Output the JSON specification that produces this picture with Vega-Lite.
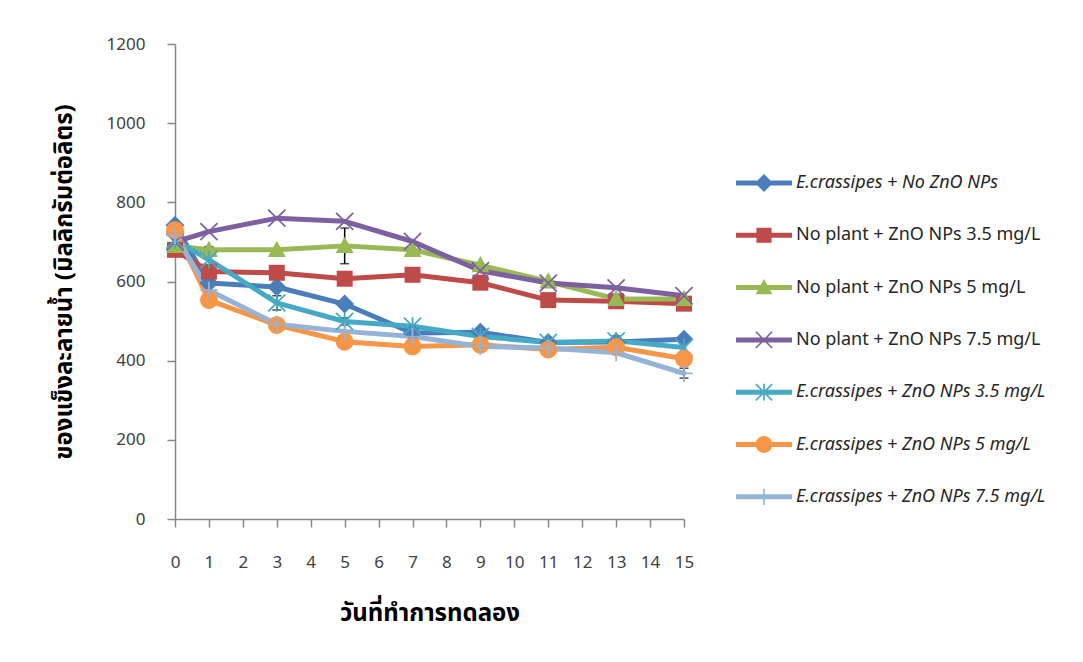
{
  "$schema": "https://vega.github.io/schema/vega-lite/v6.json",
  "width": 509,
  "height": 475,
  "autosize": {"type": "none"},
  "padding": {"left": 175, "top": 44, "right": 399, "bottom": 143},
  "background": "white",
  "datasets": {
    "tds": [
      {"day": 0, "series": "E.crassipes + No ZnO NPs", "tds": 742},
      {"day": 1, "series": "E.crassipes + No ZnO NPs", "tds": 596},
      {"day": 3, "series": "E.crassipes + No ZnO NPs", "tds": 586},
      {"day": 5, "series": "E.crassipes + No ZnO NPs", "tds": 543},
      {"day": 7, "series": "E.crassipes + No ZnO NPs", "tds": 470},
      {"day": 9, "series": "E.crassipes + No ZnO NPs", "tds": 472},
      {"day": 11, "series": "E.crassipes + No ZnO NPs", "tds": 446},
      {"day": 13, "series": "E.crassipes + No ZnO NPs", "tds": 447},
      {"day": 15, "series": "E.crassipes + No ZnO NPs", "tds": 454},
      {"day": 0, "series": "No plant + ZnO NPs 3.5 mg/L", "tds": 680},
      {"day": 1, "series": "No plant + ZnO NPs 3.5 mg/L", "tds": 625},
      {"day": 3, "series": "No plant + ZnO NPs 3.5 mg/L", "tds": 622},
      {"day": 5, "series": "No plant + ZnO NPs 3.5 mg/L", "tds": 607},
      {"day": 7, "series": "No plant + ZnO NPs 3.5 mg/L", "tds": 617},
      {"day": 9, "series": "No plant + ZnO NPs 3.5 mg/L", "tds": 597},
      {"day": 11, "series": "No plant + ZnO NPs 3.5 mg/L", "tds": 553},
      {"day": 13, "series": "No plant + ZnO NPs 3.5 mg/L", "tds": 550},
      {"day": 15, "series": "No plant + ZnO NPs 3.5 mg/L", "tds": 544},
      {"day": 0, "series": "No plant + ZnO NPs 5 mg/L", "tds": 690},
      {"day": 1, "series": "No plant + ZnO NPs 5 mg/L", "tds": 680},
      {"day": 3, "series": "No plant + ZnO NPs 5 mg/L", "tds": 680},
      {"day": 5, "series": "No plant + ZnO NPs 5 mg/L", "tds": 690},
      {"day": 7, "series": "No plant + ZnO NPs 5 mg/L", "tds": 680},
      {"day": 9, "series": "No plant + ZnO NPs 5 mg/L", "tds": 641},
      {"day": 11, "series": "No plant + ZnO NPs 5 mg/L", "tds": 600},
      {"day": 13, "series": "No plant + ZnO NPs 5 mg/L", "tds": 556},
      {"day": 15, "series": "No plant + ZnO NPs 5 mg/L", "tds": 556},
      {"day": 0, "series": "No plant + ZnO NPs 7.5 mg/L", "tds": 700},
      {"day": 1, "series": "No plant + ZnO NPs 7.5 mg/L", "tds": 726},
      {"day": 3, "series": "No plant + ZnO NPs 7.5 mg/L", "tds": 760},
      {"day": 5, "series": "No plant + ZnO NPs 7.5 mg/L", "tds": 752},
      {"day": 7, "series": "No plant + ZnO NPs 7.5 mg/L", "tds": 701},
      {"day": 9, "series": "No plant + ZnO NPs 7.5 mg/L", "tds": 627},
      {"day": 11, "series": "No plant + ZnO NPs 7.5 mg/L", "tds": 596},
      {"day": 13, "series": "No plant + ZnO NPs 7.5 mg/L", "tds": 584},
      {"day": 15, "series": "No plant + ZnO NPs 7.5 mg/L", "tds": 564},
      {"day": 0, "series": "E.crassipes + ZnO NPs 3.5 mg/L", "tds": 705},
      {"day": 1, "series": "E.crassipes + ZnO NPs 3.5 mg/L", "tds": 655},
      {"day": 3, "series": "E.crassipes + ZnO NPs 3.5 mg/L", "tds": 546},
      {"day": 5, "series": "E.crassipes + ZnO NPs 3.5 mg/L", "tds": 499},
      {"day": 7, "series": "E.crassipes + ZnO NPs 3.5 mg/L", "tds": 487},
      {"day": 9, "series": "E.crassipes + ZnO NPs 3.5 mg/L", "tds": 461},
      {"day": 11, "series": "E.crassipes + ZnO NPs 3.5 mg/L", "tds": 446},
      {"day": 13, "series": "E.crassipes + ZnO NPs 3.5 mg/L", "tds": 450},
      {"day": 15, "series": "E.crassipes + ZnO NPs 3.5 mg/L", "tds": 433},
      {"day": 0, "series": "E.crassipes + ZnO NPs 5 mg/L", "tds": 730},
      {"day": 1, "series": "E.crassipes + ZnO NPs 5 mg/L", "tds": 553},
      {"day": 3, "series": "E.crassipes + ZnO NPs 5 mg/L", "tds": 490},
      {"day": 5, "series": "E.crassipes + ZnO NPs 5 mg/L", "tds": 448},
      {"day": 7, "series": "E.crassipes + ZnO NPs 5 mg/L", "tds": 436},
      {"day": 9, "series": "E.crassipes + ZnO NPs 5 mg/L", "tds": 440},
      {"day": 11, "series": "E.crassipes + ZnO NPs 5 mg/L", "tds": 428},
      {"day": 13, "series": "E.crassipes + ZnO NPs 5 mg/L", "tds": 434},
      {"day": 15, "series": "E.crassipes + ZnO NPs 5 mg/L", "tds": 405},
      {"day": 0, "series": "E.crassipes + ZnO NPs 7.5 mg/L", "tds": 716},
      {"day": 1, "series": "E.crassipes + ZnO NPs 7.5 mg/L", "tds": 578},
      {"day": 3, "series": "E.crassipes + ZnO NPs 7.5 mg/L", "tds": 492},
      {"day": 5, "series": "E.crassipes + ZnO NPs 7.5 mg/L", "tds": 474},
      {"day": 7, "series": "E.crassipes + ZnO NPs 7.5 mg/L", "tds": 461},
      {"day": 9, "series": "E.crassipes + ZnO NPs 7.5 mg/L", "tds": 436},
      {"day": 11, "series": "E.crassipes + ZnO NPs 7.5 mg/L", "tds": 432},
      {"day": 13, "series": "E.crassipes + ZnO NPs 7.5 mg/L", "tds": 420},
      {"day": 15, "series": "E.crassipes + ZnO NPs 7.5 mg/L", "tds": 368}
    ],
    "errors": [
      {"day": 1, "series": "No plant + ZnO NPs 5 mg/L", "low": 672, "high": 688},
      {"day": 5, "series": "No plant + ZnO NPs 5 mg/L", "low": 645, "high": 735},
      {"day": 3, "series": "E.crassipes + ZnO NPs 3.5 mg/L", "low": 528, "high": 564},
      {"day": 5, "series": "E.crassipes + ZnO NPs 3.5 mg/L", "low": 490, "high": 508},
      {"day": 9, "series": "E.crassipes + No ZnO NPs", "low": 462, "high": 482},
      {"day": 13, "series": "E.crassipes + ZnO NPs 3.5 mg/L", "low": 440, "high": 462},
      {"day": 15, "series": "E.crassipes + ZnO NPs 7.5 mg/L", "low": 356, "high": 381}
    ]
  },
  "data": {"name": "tds"},
  "encoding": {
    "x": {
      "field": "day",
      "type": "quantitative",
      "scale": {"domain": [0, 15], "nice": false, "zero": false},
      "axis": {
        "values": [0, 1, 2, 3, 4, 5, 6, 7, 8, 9, 10, 11, 12, 13, 14, 15],
        "title": "วันที่ทำการทดลอง",
        "labelFlush": false,
        "labelPadding": 27,
        "titlePadding": 31
      }
    },
    "y": {
      "field": "tds",
      "type": "quantitative",
      "scale": {"domain": [0, 1200], "nice": false},
      "axis": {
        "values": [0, 200, 400, 600, 800, 1000, 1200],
        "format": "d",
        "title": "ของแข็งละลายน้ำ (มิลลิกรัมต่อลิตร)",
        "labelFlush": false,
        "labelPadding": 22,
        "titlePadding": 30
      }
    }
  },
  "layer": [
    {
      "mark": {"type": "line", "strokeWidth": 5, "strokeCap": "round", "strokeJoin": "round"},
      "encoding": {
        "color": {
          "field": "series",
          "type": "nominal",
          "scale": {
            "domain": ["E.crassipes + No ZnO NPs", "No plant + ZnO NPs 3.5 mg/L", "No plant + ZnO NPs 5 mg/L", "No plant + ZnO NPs 7.5 mg/L", "E.crassipes + ZnO NPs 3.5 mg/L", "E.crassipes + ZnO NPs 5 mg/L", "E.crassipes + ZnO NPs 7.5 mg/L"],
            "range": ["#4a7ebb", "#be4b48", "#98b954", "#7d60a0", "#46aac5", "#f79646", "#95b3d7"]
          },
          "legend": null
        }
      }
    },
    {
      "data": {"name": "errors"},
      "mark": {"type": "errorbar", "color": "black", "ticks": {"size": 9, "thickness": 1.5}, "rule": {"strokeWidth": 1.5}},
      "encoding": {
        "y": {"field": "low", "type": "quantitative"},
        "y2": {"field": "high"}
      }
    },
    {
      "mark": {"type": "point", "filled": true, "opacity": 1, "size": 3500, "strokeWidth": 0},
      "encoding": {
        "color": {"field": "series", "type": "nominal", "legend": null},
        "shape": {
          "field": "series",
          "type": "nominal",
          "scale": {
            "domain": ["E.crassipes + No ZnO NPs", "No plant + ZnO NPs 3.5 mg/L", "No plant + ZnO NPs 5 mg/L", "No plant + ZnO NPs 7.5 mg/L", "E.crassipes + ZnO NPs 3.5 mg/L", "E.crassipes + ZnO NPs 5 mg/L", "E.crassipes + ZnO NPs 7.5 mg/L"],
            "range": [
              "M0,-0.32L0.32,0L0,0.32L-0.32,0Z",
              "M-0.27,-0.27H0.27V0.27H-0.27Z",
              "M0,-0.31L0.3,0.24H-0.3Z",
              "M-0.269,-0.311L0.311,0.269L0.269,0.311L-0.311,-0.269Z M0.311,-0.269L-0.269,0.311L-0.311,0.269L0.269,-0.311Z",
              "M-0.269,-0.311L0.311,0.269L0.269,0.311L-0.311,-0.269Z M0.311,-0.269L-0.269,0.311L-0.311,0.269L0.269,-0.311Z M-0.03,-0.3H0.03V0.3H-0.03Z",
              "M-0.3,0A0.3,0.3 0 1,1 0.3,0A0.3,0.3 0 1,1 -0.3,0Z",
              "M-0.03,-0.29H0.03V0.29H-0.03Z M-0.29,-0.03H0.29V0.03H-0.29Z"
            ]
          },
          "legend": null
        }
      }
    },
    {
      "mark": {"type": "point", "filled": true, "opacity": 0, "size": 3136},
      "encoding": {
        "fill": {
          "field": "series",
          "type": "nominal",
          "scale": {
            "domain": ["E.crassipes + No ZnO NPs", "No plant + ZnO NPs 3.5 mg/L", "No plant + ZnO NPs 5 mg/L", "No plant + ZnO NPs 7.5 mg/L", "E.crassipes + ZnO NPs 3.5 mg/L", "E.crassipes + ZnO NPs 5 mg/L", "E.crassipes + ZnO NPs 7.5 mg/L"],
            "range": ["#4a7ebb", "#be4b48", "#98b954", "#7d60a0", "#46aac5", "#f79646", "#95b3d7"]
          },
          "legend": {
            "orient": "none",
            "legendX": 561,
            "legendY": 111,
            "title": null,
            "symbolSize": 3136,
            "symbolStrokeWidth": 0,
            "symbolOpacity": 1,
            "labelFont": "Noto Sans",
            "labelFontSize": 18,
            "labelColor": "#262626",
            "labelOffset": 4,
            "labelLimit": 400,
            "rowPadding": 15.3,
            "labelFontStyle": {"expr": "indexof(datum.label, 'E.crassipes') === 0 ? 'italic' : 'normal'"}
          }
        },
        "shape": {
          "field": "series",
          "type": "nominal",
          "scale": {
            "domain": ["E.crassipes + No ZnO NPs", "No plant + ZnO NPs 3.5 mg/L", "No plant + ZnO NPs 5 mg/L", "No plant + ZnO NPs 7.5 mg/L", "E.crassipes + ZnO NPs 3.5 mg/L", "E.crassipes + ZnO NPs 5 mg/L", "E.crassipes + ZnO NPs 7.5 mg/L"],
            "range": [
              "M-1,-0.09H1V0.09H-1Z M0,-0.32L0.32,0L0,0.32L-0.32,0Z",
              "M-1,-0.09H1V0.09H-1Z M-0.27,-0.27H0.27V0.27H-0.27Z",
              "M-1,-0.09H1V0.09H-1Z M0,-0.31L0.3,0.24H-0.3Z",
              "M-1,-0.09H1V0.09H-1Z M-0.269,-0.311L0.311,0.269L0.269,0.311L-0.311,-0.269Z M0.311,-0.269L-0.269,0.311L-0.311,0.269L0.269,-0.311Z",
              "M-1,-0.09H1V0.09H-1Z M-0.269,-0.311L0.311,0.269L0.269,0.311L-0.311,-0.269Z M0.311,-0.269L-0.269,0.311L-0.311,0.269L0.269,-0.311Z M-0.03,-0.3H0.03V0.3H-0.03Z",
              "M-1,-0.09H1V0.09H-1Z M-0.3,0A0.3,0.3 0 1,1 0.3,0A0.3,0.3 0 1,1 -0.3,0Z",
              "M-1,-0.09H1V0.09H-1Z M-0.03,-0.29H0.03V0.29H-0.03Z"
            ]
          },
          "legend": {
            "orient": "none",
            "legendX": 561,
            "legendY": 111,
            "title": null,
            "symbolSize": 3136,
            "symbolStrokeWidth": 0,
            "symbolOpacity": 1,
            "labelFont": "Noto Sans",
            "labelFontSize": 18,
            "labelColor": "#262626",
            "labelOffset": 4,
            "labelLimit": 400,
            "rowPadding": 15.3,
            "labelFontStyle": {"expr": "indexof(datum.label, 'E.crassipes') === 0 ? 'italic' : 'normal'"}
          }
        }
      }
    }
  ],
  "resolve": {
    "scale": {"shape": "independent", "fill": "independent"},
    "legend": {"shape": "independent", "fill": "independent"}
  },
  "config": {
    "font": "Noto Sans",
    "view": {"stroke": null},
    "axis": {
      "grid": false,
      "domainColor": "#868686",
      "domainWidth": 1.5,
      "tickColor": "#868686",
      "tickWidth": 1.5,
      "tickSize": 8,
      "labelFont": "Noto Sans",
      "labelFontSize": 17,
      "labelColor": "#404040",
      "titleFont": "Noto Sans Thai, Loma, Garuda, Tahoma, Noto Sans, sans-serif",
      "titleFontSize": 24,
      "titleFontWeight": "bold",
      "titleColor": "#000000"
    }
  }
}
